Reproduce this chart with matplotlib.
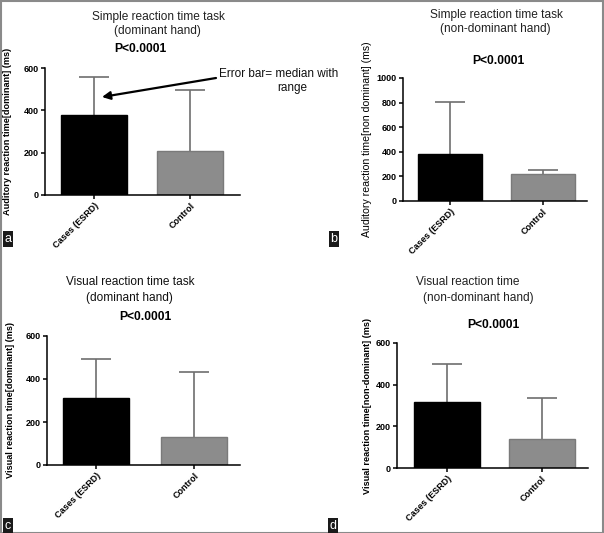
import matplotlib
matplotlib.use('Agg')
import matplotlib.pyplot as plt
from matplotlib.patches import Rectangle

plt.rcParams['font.family'] = ['Liberation Sans', 'DejaVu Sans']

# data (median and maximum of range, ms)
groups = ['Cases (ESRD)', 'Control']
srt_dom_median = [378, 209]
srt_dom_max = [559, 496]
srt_nondom_median = [380, 218]
srt_nondom_max = [807, 250]
vrt_dom_median = [313, 131]
vrt_dom_max = [493, 432]
vrt_nondom_median = [318, 140]
vrt_nondom_max = [498, 335]

W, H = 604, 533
fig = plt.figure(figsize=(W / 100, H / 100), dpi=100)


def px_axes(left, right, y0, ytop):
    # axes box given in pixel positions of the reference
    return fig.add_axes([left / W, 1 - y0 / H, (right - left) / W, (y0 - ytop) / H])


def bar_panel(ax, median, top, ymax, yticks, ylabel, xlim, width, label_x,
              label_size=6.6, label_weight='bold'):
    x = [0, 1]
    up = [t - m for t, m in zip(top, median)]
    _, caps, _ = ax.errorbar(x, median, yerr=[[0, 0], up], fmt='none', ecolor='#6e6e6e',
                             elinewidth=1.2, capsize=11, capthick=1.2, zorder=1)
    caps[0].set_visible(False)  # only the upper whisker shows above the bar
    ax.bar(x, median, width=width, color=['#000000', '#8c8c8c'],
           edgecolor=['#000000', '#7a7a7a'], linewidth=1, zorder=2)
    ax.set_xlim(*xlim)
    ax.set_ylim(0, ymax)
    ax.set_yticks(yticks)
    ax.set_xticks(x)
    ax.set_xticklabels(groups, rotation=45, ha='right', rotation_mode='anchor',
                       fontsize=6.5, fontweight='bold')
    for lab in ax.get_yticklabels():
        lab.set_fontsize(6.5)
        lab.set_fontweight('bold')
    ax.spines['top'].set_visible(False)
    ax.spines['right'].set_visible(False)
    ax.spines['left'].set_linewidth(1.1)
    ax.spines['bottom'].set_linewidth(1.1)
    ax.tick_params(axis='both', length=3, width=1.1, pad=1.5)
    ax.patch.set_alpha(0)
    ax.set_ylabel(ylabel, fontsize=label_size, fontweight=label_weight)
    ax.yaxis.set_label_coords(label_x, 0.5)


ax_a = px_axes(45, 240, 195, 68)
bar_panel(ax_a, srt_dom_median, srt_dom_max, 600, [0, 200, 400, 600],
          'Auditory reaction time[dominant] (ms)', (-0.51, 1.52), 0.68, -0.17)

ax_b = px_axes(403, 587, 201, 78)
bar_panel(ax_b, srt_nondom_median, srt_nondom_max, 1000, [0, 200, 400, 600, 800, 1000],
          'Auditory reaction time[non dominant] (ms)', (-0.51, 1.48), 0.69, -0.17,
          label_size=7.6, label_weight='normal')

ax_c = px_axes(47, 240, 465, 336)
bar_panel(ax_c, vrt_dom_median, vrt_dom_max, 600, [0, 200, 400, 600],
          'Visual reaction time[dominant] (ms)', (-0.5, 1.47), 0.67, -0.165)

ax_d = px_axes(397, 588, 468, 343)
bar_panel(ax_d, vrt_nondom_median, vrt_nondom_max, 600, [0, 200, 400, 600],
          'Visual reaction time[non-dominant] (ms)', (-0.53, 1.49), 0.70, -0.13)


def ftext(x, y, s, **kw):
    fig.text(x / W, 1 - y / H, s, ha='center', va='center', **kw)


# titles and p-values
ftext(159, 17, 'Simple reaction time task', fontsize=8.6, color='#222222')
ftext(157, 31, '(dominant hand)', fontsize=8.6, color='#222222')
ftext(140, 49, 'P<0.0001', fontsize=8.7, fontweight='bold')

ftext(496, 15, 'Simple reaction time task', fontsize=8.6, color='#222222')
ftext(495, 29, '(non-dominant hand)', fontsize=8.6, color='#222222')
ftext(498, 61, 'P<0.0001', fontsize=8.7, fontweight='bold')

ftext(130, 282, 'Visual reaction time task', fontsize=8.6, color='#111111')
ftext(129, 298, '(dominant hand)', fontsize=8.6, color='#111111')
ftext(145, 317, 'P<0.0001', fontsize=8.7, fontweight='bold')

ftext(468, 282, 'Visual reaction time', fontsize=8.6, color='#222222')
ftext(478, 298, '(non-dominant hand)', fontsize=8.6, color='#222222')
ftext(493, 325, 'P<0.0001', fontsize=8.7, fontweight='bold')

# error bar annotation in panel a
ftext(279, 74, 'Error bar= median with', fontsize=8.5, color='#111111')
ftext(292, 88, 'range', fontsize=8.5, color='#111111')
fig.add_artist(plt.Annotation('', xy=(102 / W, 1 - 97 / H), xycoords='figure fraction',
                              xytext=(216 / W, 1 - 78 / H), textcoords='figure fraction',
                              arrowprops=dict(arrowstyle='-|>', color='black', lw=1.6,
                                              mutation_scale=12, shrinkA=0, shrinkB=0)))

# panel letters
for letter, x, y in [('a', 8, 239), ('b', 334, 239), ('c', 8, 526), ('d', 333, 526)]:
    ftext(x, y, letter, fontsize=9, color='white',
          bbox=dict(boxstyle='square,pad=0.15', facecolor='#1a1a1a', edgecolor='none'))

# outer frame
fig.add_artist(Rectangle((0.5 / W, 0.5 / H), (W - 1.5) / W, (H - 1.5) / H,
                         transform=fig.transFigure, fill=False,
                         edgecolor='#8a8a8a', linewidth=1.5))

fig.savefig('out.png', dpi=100, facecolor='white')
